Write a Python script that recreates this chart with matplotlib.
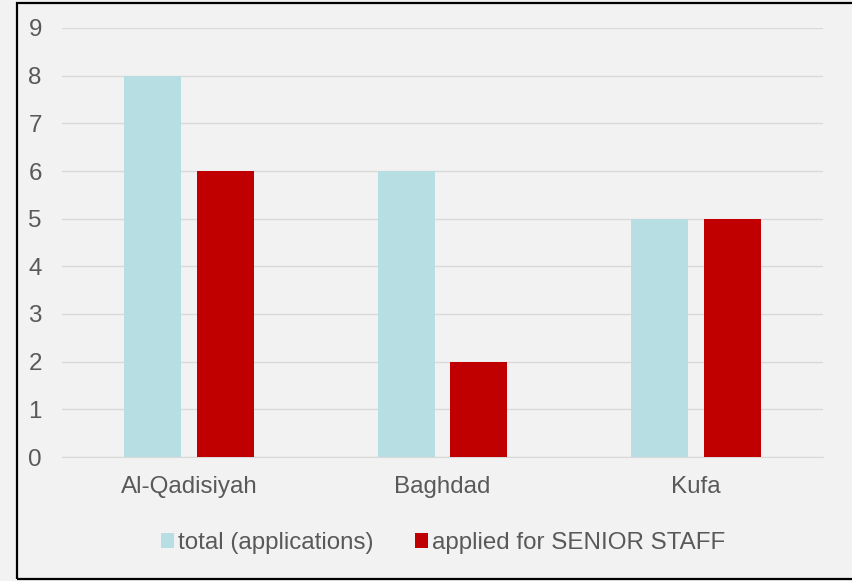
import numpy as np
import matplotlib.pyplot as plt
from matplotlib.patches import Rectangle

plt.rcParams['font.family'] = ['Liberation Sans', 'DejaVu Sans']

# Data
universities = ["Al-Qadisiyah", "Baghdad", "Kufa"]
total_applications = [8, 6, 5]
senior_staff = [6, 2, 5]
series_names = ["total (applications)", "applied for SENIOR STAFF"]

W, H = 852, 581
fs = 17.4
fig = plt.figure(figsize=(W / 100, H / 100), dpi=100, facecolor='#f2f2f2')
ax = fig.add_axes([62 / W, 1 - 457 / H, 761 / W, (457 - 28) / H])
ax.set_facecolor('#f2f2f2')

x = np.arange(len(universities))
bw = 0.224
ax.bar(x - 0.143, total_applications, bw, color='#b7dee3', label=series_names[0], zorder=3)
ax.bar(x + 0.143, senior_staff, bw, color='#c00000', label=series_names[1], zorder=3)

ax.set_xlim(-0.5, 2.5)
ax.set_ylim(0, 9)
ax.set_yticks(range(10))
ax.set_xticks(x)
ax.set_xticklabels(universities)
ax.grid(axis='y', color='#d9d9d9', linewidth=1, zorder=0)
for s in ['top', 'right', 'left']:
    ax.spines[s].set_visible(False)
ax.spines['bottom'].set_color('#d9d9d9')
ax.tick_params(axis='both', length=0, labelsize=fs, labelcolor='#595959')
ax.tick_params(axis='x', pad=14)
ax.tick_params(axis='y', pad=14.5)

fig.legend(loc='center', bbox_to_anchor=(443 / W, 1 - 543 / H), ncol=2, frameon=False,
           fontsize=fs, labelcolor='#595959', handlelength=0.54, handleheight=0.54,
           handletextpad=0.18, columnspacing=1.7)

# outer border (right side runs off the image)
fig.patches.append(Rectangle((17 / W, 2 / H), 1.0, (578 - 2) / H,
                             transform=fig.transFigure, fill=False,
                             edgecolor='black', linewidth=1.6))

fig.savefig('out.png', dpi=100, facecolor=fig.get_facecolor())
